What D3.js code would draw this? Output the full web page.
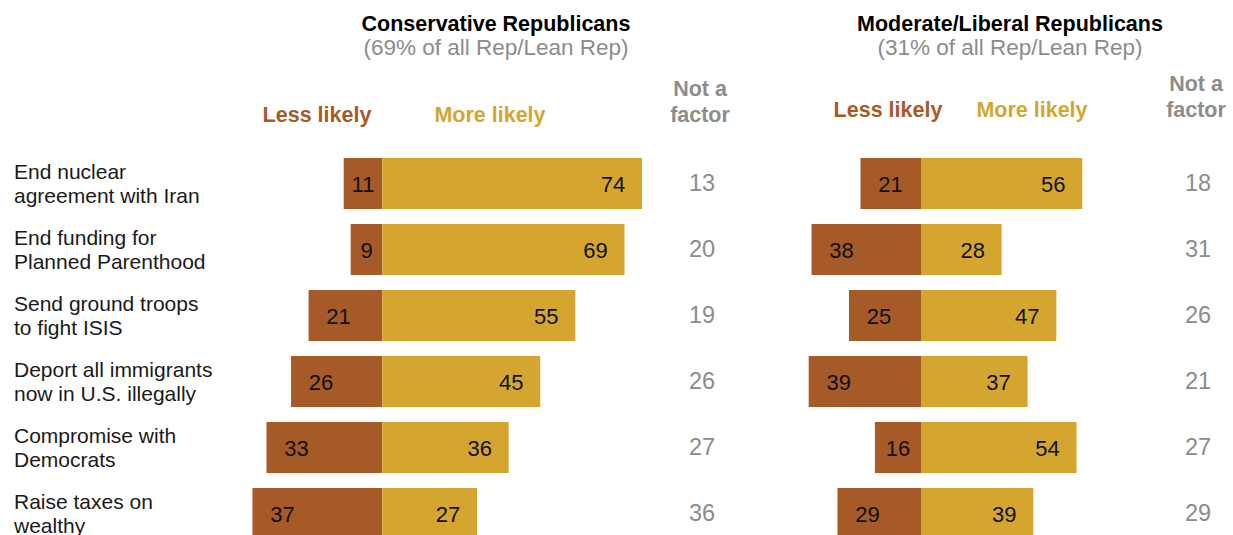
<!DOCTYPE html>
<html>
<head>
<meta charset="utf-8">
<script src="https://cdn.jsdelivr.net/npm/d3@7"></script>
<style>
  body { margin: 0; background: #fff; }
  svg { display: block; font-family: "Liberation Sans", Arial, sans-serif; }
</style>
</head>
<body>
<svg id="chart" width="1233" height="535"></svg>
<script>
const categories = [
    ["End nuclear", "agreement with Iran"],
    ["End funding for", "Planned Parenthood"],
    ["Send ground troops", "to fight ISIS"],
    ["Deport all immigrants", "now in U.S. illegally"],
    ["Compromise with", "Democrats"],
    ["Raise taxes on", "wealthy"]
];

const consLess = [11, 9, 21, 26, 33, 37];
const consMore = [74, 69, 55, 45, 36, 27];
const consNot = [13, 20, 19, 26, 27, 36];

const modLess = [21, 38, 25, 39, 16, 29];
const modMore = [56, 28, 47, 37, 54, 39];
const modNot = [18, 31, 26, 21, 27, 29];

const lessColor = "#a65a28", moreColor = "#d4a630", grey = "#8c8c8c";

const svg = d3.select("#chart");

const y = d3.scaleBand()
    .domain(d3.range(categories.length))
    .range([150.5, 546.5])
    .paddingInner(15 / 66)
    .paddingOuter(7.5 / 66);

// row labels (the last one runs off the bottom edge, as in the original)
const rowLabels = svg.append("g");
categories.forEach((lines, i) => {
    const cy = y(i) + y.bandwidth() / 2;
    const t = rowLabels.append("text")
        .attr("x", 14)
        .attr("y", cy - 5)
        .style("font-size", "21px")
        .style("fill", "#1a1a1a");
    lines.forEach((l, j) => {
        t.append("tspan").attr("x", 14).attr("dy", j === 0 ? 0 : 24).text(l);
    });
});

function drawPanel(opts) {
    const x = d3.scaleLinear()
        .domain([-50, 80])
        .range([opts.center - 50 * opts.unit, opts.center + 80 * opts.unit]);
    const g = svg.append("g");
    const rows = d3.range(categories.length);

    // titles
    g.append("text")
        .attr("x", opts.titleX).attr("y", 31)
        .attr("text-anchor", "middle")
        .style("font-size", "21.5px").style("font-weight", "bold").style("fill", "#000")
        .text(opts.title);
    g.append("text")
        .attr("x", opts.titleX).attr("y", 55)
        .attr("text-anchor", "middle")
        .style("font-size", "22.5px").style("fill", grey)
        .text(opts.subtitle);

    // column headers
    g.append("text")
        .attr("x", opts.lessX).attr("y", opts.headY)
        .attr("text-anchor", "middle")
        .style("font-size", "21.5px").style("font-weight", "bold").style("fill", lessColor)
        .text("Less likely");
    g.append("text")
        .attr("x", opts.moreX).attr("y", opts.headY)
        .attr("text-anchor", "middle")
        .style("font-size", "21.5px").style("font-weight", "bold").style("fill", moreColor)
        .text("More likely");
    const nf = g.append("text")
        .attr("x", opts.notX).attr("y", opts.headY - 26)
        .attr("text-anchor", "middle")
        .style("font-size", "21.5px").style("font-weight", "bold").style("fill", grey);
    nf.append("tspan").attr("x", opts.notX).attr("dy", 0).text("Not a");
    nf.append("tspan").attr("x", opts.notX).attr("dy", 26).text("factor");

    // less likely bars
    g.selectAll(".less")
        .data(rows)
        .enter().append("rect")
        .attr("class", "less")
        .attr("x", i => x(-opts.less[i]))
        .attr("y", i => y(i))
        .attr("width", i => x(0) - x(-opts.less[i]))
        .attr("height", y.bandwidth())
        .attr("fill", lessColor);

    // more likely bars
    g.selectAll(".more")
        .data(rows)
        .enter().append("rect")
        .attr("class", "more")
        .attr("x", x(0))
        .attr("y", i => y(i))
        .attr("width", i => x(opts.more[i]) - x(0))
        .attr("height", y.bandwidth())
        .attr("fill", moreColor);

    g.selectAll(".less-label")
        .data(rows)
        .enter().append("text")
        .attr("class", "less-label")
        .attr("x", i => Math.min(x(-opts.less[i]) + 30, (x(-opts.less[i]) + x(0)) / 2))
        .attr("y", i => y(i) + y.bandwidth() / 2 + 8.5)
        .attr("text-anchor", "middle")
        .style("font-size", "22px").style("fill", "#111")
        .text(i => opts.less[i]);

    g.selectAll(".more-label")
        .data(rows)
        .enter().append("text")
        .attr("class", "more-label")
        .attr("x", i => Math.max(x(opts.more[i]) - 29, (x(opts.more[i]) + x(0)) / 2))
        .attr("y", i => y(i) + y.bandwidth() / 2 + 8.5)
        .attr("text-anchor", "middle")
        .style("font-size", "22px").style("fill", "#111")
        .text(i => opts.more[i]);

    g.selectAll(".not-label")
        .data(rows)
        .enter().append("text")
        .attr("class", "not-label")
        .attr("x", opts.notX + 2)
        .attr("y", i => y(i) + y.bandwidth() / 2 + 7)
        .attr("text-anchor", "middle")
        .style("font-size", "23.5px").style("fill", grey)
        .text(i => opts.not[i]);
}

drawPanel({
    center: 382.3, unit: 3.51,
    title: "Conservative Republicans", subtitle: "(69% of all Rep/Lean Rep)",
    titleX: 496, lessX: 317, moreX: 490, notX: 700, headY: 122,
    less: consLess, more: consMore, not: consNot
});

drawPanel({
    center: 921, unit: 2.88,
    title: "Moderate/Liberal Republicans", subtitle: "(31% of all Rep/Lean Rep)",
    titleX: 1010, lessX: 888, moreX: 1032, notX: 1196, headY: 117,
    less: modLess, more: modMore, not: modNot
});
</script>
</body>
</html>
